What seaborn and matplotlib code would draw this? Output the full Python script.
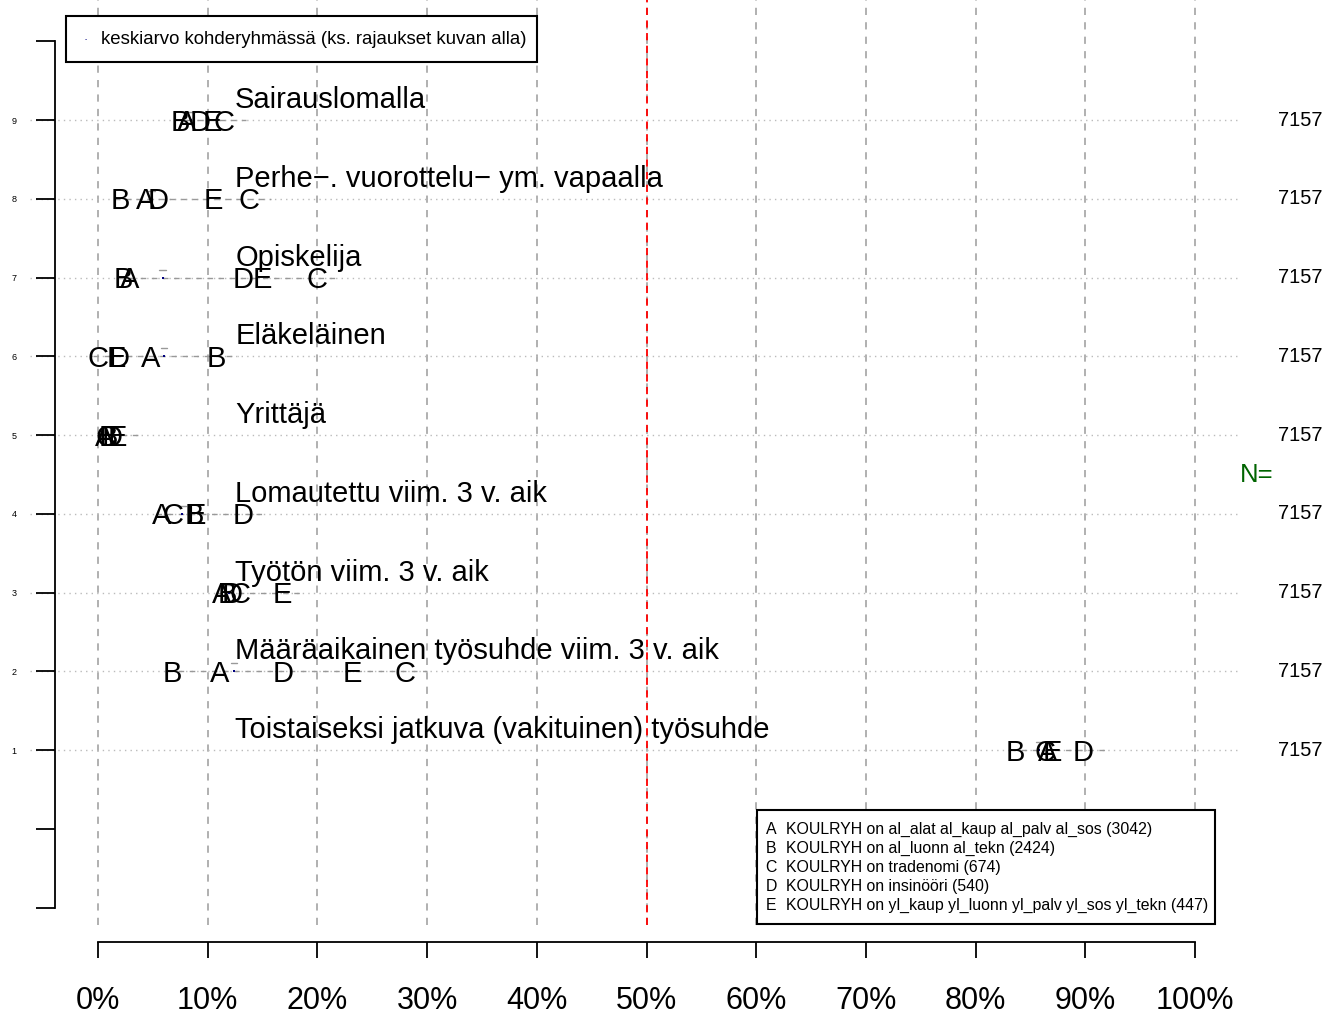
import numpy as np
import pandas as pd
import matplotlib.pyplot as plt
import matplotlib.patches as mpatches
import seaborn as sns

# data (percent), rows from bottom (1) to top (9)
categories = ["Toistaiseksi jatkuva (vakituinen) työsuhde",
              "Määräaikainen työsuhde viim. 3 v. aik",
              "Työtön viim. 3 v. aik",
              "Lomautettu viim. 3 v. aik",
              "Yrittäjä",
              "Eläkeläinen",
              "Opiskelija",
              "Perhe−. vuorottelu− ym. vapaalla",
              "Sairauslomalla"]
grp_A = [86.6, 11.1, 11.3, 5.8, 0.6, 4.8, 2.9, 4.3, 8.1]
grp_B = [83.6, 6.8, 11.8, 8.8, 0.9, 10.8, 2.3, 2.0, 7.5]
grp_C = [86.3, 28.0, 12.9, 6.8, 0.7, 0.0, 20.0, 13.8, 11.5]
grp_D = [89.8, 16.9, 12.2, 13.2, 1.3, 1.9, 13.2, 5.5, 9.3]
grp_E = [87.0, 23.2, 16.8, 9.0, 1.8, 1.7, 15.0, 10.5, 10.4]
means = [85.8, 12.4, 11.9, 7.7, 0.8, 6.0, 5.9, 4.9, 8.5]
n_values = [7157] * 9
group_letters = ["A", "B", "C", "D", "E"]
group_labels = ["KOULRYH on al_alat al_kaup al_palv al_sos (3042)",
                "KOULRYH on al_luonn al_tekn (2424)",
                "KOULRYH on tradenomi (674)",
                "KOULRYH on insinööri (540)",
                "KOULRYH on yl_kaup yl_luonn yl_palv yl_sos yl_tekn (447)"]
x_ticks = list(range(0, 101, 10))
x_ticklabels = [f"{t}%" for t in x_ticks]

sns.set_theme(style="white", rc={'text.color': 'black', 'xtick.color': 'black',
                                 'ytick.color': 'black', 'axes.labelcolor': 'black'})
plt.rcParams['font.family'] = ['Liberation Sans', 'DejaVu Sans']

W, H = 1341, 1016
fig = plt.figure(figsize=(W / 100, H / 100), dpi=100)
ax = fig.add_axes([30 / W, (H - 925) / H, (1240 - 30) / W, 925 / H])
ax.set_xlim(-6.2, 104.1)
ax.set_ylim(-1.222, 10.524)

rows = np.arange(1, len(categories) + 1)
groups = {"A": grp_A, "B": grp_B, "C": grp_C, "D": grp_D, "E": grp_E}
df = pd.DataFrame(groups)
df["row"] = rows
df["mean"] = means
df["cat"] = categories

# grid lines
for t in x_ticks:
    ax.axvline(t, color='#aaaaaa', ls=(0, (4, 4)), lw=1.3, zorder=0)
for r in rows:
    ax.axhline(r, color='#bbbbbb', ls=(0, (1, 3)), lw=1.0, zorder=0)
ax.axvline(50, color='red', ls=(0, (4, 3)), lw=1.3, zorder=1)

# range of group values in each row
for _, rw in df.iterrows():
    vals = [rw[g] for g in group_letters]
    ax.plot([min(vals) - 0.5, max(vals) + 2.0], [rw["row"]] * 2,
            color='#999999', ls=(0, (4, 4)), lw=1.0, zorder=1)
    ax.plot([rw["mean"] - 0.3, rw["mean"] + 0.3], [rw["row"] + 0.1] * 2,
            color='#999999', lw=1.0, zorder=1)

sns.scatterplot(data=df, x="mean", y="row", ax=ax, color='#000080', s=4,
                marker='s', linewidth=0, zorder=3, legend=False)

for g in group_letters:
    for x, r in zip(groups[g], rows):
        ax.text(x, r - 0.135, g, ha='center', va='baseline', fontsize=21, zorder=4)

for c, r in zip(categories, rows):
    ax.text(12.5, r + 0.152, c, ha='left', va='baseline', fontsize=21, zorder=4)

for nv, r in zip(n_values, rows):
    ax.text(109.6, r, str(nv), ha='center', va='center', fontsize=14.5, clip_on=False)
ax.text(105.6, 4.49, "N=", ha='center', va='center', fontsize=18.5, color='#006400',
        clip_on=False)

# axes in R style
for s in ['top', 'right']:
    ax.spines[s].set_visible(False)
ax.spines['bottom'].set_position(('outward', 12.2))
ax.spines['bottom'].set_bounds(0, 100)
ax.spines['left'].set_position(('data', -3.92))
ax.spines['left'].set_bounds(-1, 10)
for s in ['bottom', 'left']:
    ax.spines[s].set_color('black')
    ax.spines[s].set_linewidth(1.3)
ax.set_xticks(x_ticks)
ax.set_xticklabels(x_ticklabels, fontsize=22)
ax.tick_params(axis='x', length=11.5, width=1.3, pad=20, bottom=True, color='black',
               labelcolor='black')
ax.set_yticks(list(range(-1, 11)))
ax.set_yticklabels(["" if (t < 1 or t > 9) else str(t) for t in range(-1, 11)], fontsize=6.5)
ax.tick_params(axis='y', length=13.7, width=1.3, pad=14, left=True, color='black',
               labelcolor='black')
ax.set_xlabel("")
ax.set_ylabel("")
ax.grid(False)

# top legend box
fig.patches.append(mpatches.Rectangle((66 / W, 1 - 62 / H), (537 - 66) / W, 46 / H,
                                      transform=fig.transFigure, fill=True, fc='white',
                                      ec='black', lw=1.5, zorder=5))
fig.text(86 / W, 1 - 40 / H, "·", ha='center', va='center', fontsize=9, color='#000080',
         zorder=6)
fig.text(101 / W, 1 - 40 / H, "keskiarvo kohderyhmässä (ks. rajaukset kuvan alla)",
         ha='left', va='center', fontsize=13.4, zorder=6)

# bottom legend box
fig.patches.append(mpatches.Rectangle((757 / W, 1 - 924 / H), (1215 - 757) / W, 114 / H,
                                      transform=fig.transFigure, fill=True, fc='white',
                                      ec='black', lw=1.5, zorder=5))
for i, (g, lab) in enumerate(zip(group_letters, group_labels)):
    yy = 1 - (834 + 19 * i) / H
    fig.text(771 / W, yy, g, ha='center', va='baseline', fontsize=11.4, zorder=6)
    fig.text(786 / W, yy, lab, ha='left', va='baseline', fontsize=11.4, zorder=6)

plt.savefig("out.png", dpi=100)
